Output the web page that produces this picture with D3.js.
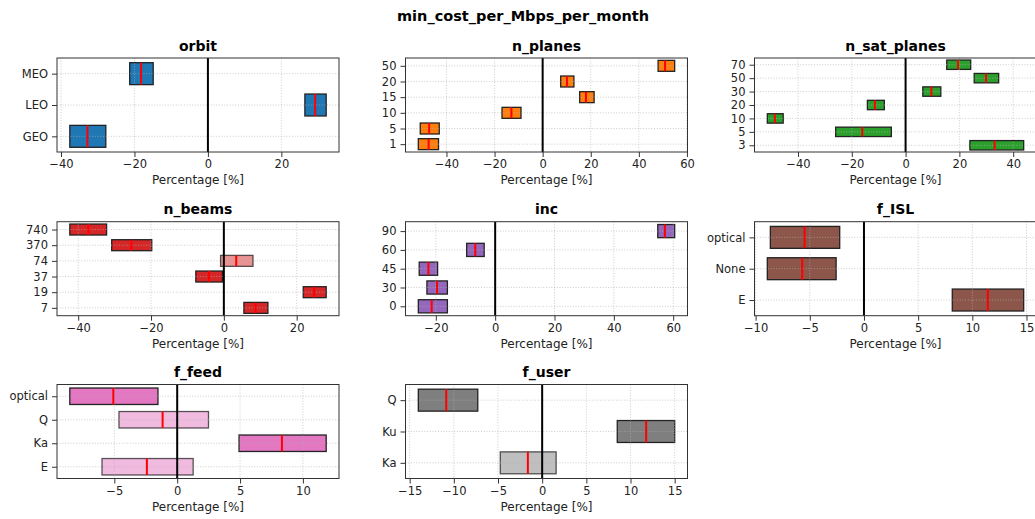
<!DOCTYPE html>
<html>
<head>
<meta charset="utf-8">
<script src="https://cdn.jsdelivr.net/npm/d3@7"></script>
<style>
  body { margin: 0; background: #fff; }
  svg { font-family: "DejaVu Sans", sans-serif; }
</style>
</head>
<body>
<svg id="chart" width="1035" height="519"></svg>
<script>
// values: box low / high edges and median, in percent
const orbitLabels = ["GEO", "LEO", "MEO"];
const orbitLow = [-37.6, 26.4, -21.3];
const orbitHigh = [-27.8, 32.2, -14.9];
const orbitMedian = [-32.8, 29.2, -18.2];

const planesLabels = ["1", "5", "10", "15", "20", "50"];
const planesLow = [-51.7, -50.9, -16.9, 15.4, 7.5, 48.0];
const planesHigh = [-43.3, -43.0, -9.0, 21.4, 13.0, 54.9];
const planesMedian = [-47.4, -47.2, -13.0, 18.0, 10.1, 50.9];

const satLabels = ["3", "5", "10", "20", "30", "50", "70"];
const satLow = [23.9, -26.0, -51.4, -14.2, 6.4, 25.5, 15.3];
const satHigh = [43.9, -5.3, -45.5, -7.9, 13.1, 34.6, 24.2];
const satMedian = [33.1, -16.1, -48.6, -11.4, 9.6, 29.9, 19.5];

const beamsLabels = ["7", "19", "37", "74", "370", "740"];
const beamsLow = [5.5, 21.8, -7.7, -0.9, -30.8, -42.3];
const beamsHigh = [12.1, 28.1, -0.4, 8.0, -19.8, -32.2];
const beamsMedian = [8.7, 24.8, -4.1, 3.4, -25.4, -37.2];

const incLabels = ["0", "30", "45", "60", "90"];
const incLow = [-25.9, -23.0, -25.6, -9.6, 54.8];
const incHigh = [-16.1, -16.1, -19.4, -3.7, 60.5];
const incMedian = [-21.4, -19.6, -22.5, -6.7, 57.2];

const islLabels = ["E", "None", "optical"];
const islLow = [8.15, -8.92, -8.64];
const islHigh = [14.74, -2.57, -2.24];
const islMedian = [11.43, -5.70, -5.48];

const feedLabels = ["E", "Ka", "Q", "optical"];
const feedLow = [-5.98, 4.92, -4.63, -8.54];
const feedHigh = [1.27, 11.85, 2.49, -1.53];
const feedMedian = [-2.41, 8.33, -1.16, -5.08];

const userLabels = ["Ka", "Ku", "Q"];
const userLow = [-4.74, 8.50, -14.02];
const userHigh = [1.58, 15.0, -7.29];
const userMedian = [-1.62, 11.77, -10.86];

const xTicks = {
  orbit: [-40, -20, 0, 20],
  n_planes: [-40, -20, 0, 20, 40, 60],
  n_sat_planes: [-40, -20, 0, 20, 40],
  n_beams: [-40, -20, 0, 20],
  inc: [-20, 0, 20, 40, 60],
  f_ISL: [-10, -5, 0, 5, 10, 15],
  f_feed: [-5, 0, 5, 10],
  f_user: [-15, -10, -5, 0, 5, 10, 15]
};

const panels = [
  { title: "orbit", labels: orbitLabels, low: orbitLow, high: orbitHigh, med: orbitMedian, color: "#1f77b4" },
  { title: "n_planes", labels: planesLabels, low: planesLow, high: planesHigh, med: planesMedian, color: "#ff7f0e" },
  { title: "n_sat_planes", labels: satLabels, low: satLow, high: satHigh, med: satMedian, color: "#2ca02c" },
  { title: "n_beams", labels: beamsLabels, low: beamsLow, high: beamsHigh, med: beamsMedian, color: "#d62728" },
  { title: "inc", labels: incLabels, low: incLow, high: incHigh, med: incMedian, color: "#9467bd" },
  { title: "f_ISL", labels: islLabels, low: islLow, high: islHigh, med: islMedian, color: "#8c564b" },
  { title: "f_feed", labels: feedLabels, low: feedLow, high: feedHigh, med: feedMedian, color: "#e377c2" },
  { title: "f_user", labels: userLabels, low: userLow, high: userHigh, med: userMedian, color: "#7f7f7f" }
];

const colLeft = [57, 405.5, 754.5];
const rowTop = [58, 221.7, 384.5];
const axW = 282, axH = 94;

const svg = d3.select("#chart");

svg.append("text")
  .attr("x", 523).attr("y", 21)
  .attr("text-anchor", "middle")
  .attr("font-size", 14.5).attr("font-weight", "bold")
  .text("min_cost_per_Mbps_per_month");

panels.forEach((p, k) => {
  const x0 = colLeft[k % 3], y0 = rowTop[Math.floor(k / 3)];
  const n = p.labels.length;
  const lo = d3.min(p.low), hi = d3.max(p.high);
  const pad = (hi - lo) * 0.05;

  const x = d3.scaleLinear().domain([lo - pad, hi + pad]).range([0, axW]);
  const y = d3.scaleLinear().domain([0.5, n + 0.5]).range([axH, 0]);
  const rows = p.labels.map((l, i) => ({ label: l, pos: i + 1, low: p.low[i], high: p.high[i], med: p.med[i] }));

  const g = svg.append("g").attr("transform", "translate(" + x0 + "," + y0 + ")");
  g.append("clipPath").attr("id", "clip" + k)
    .append("rect").attr("width", axW).attr("height", axH);
  const plot = g.append("g").attr("clip-path", "url(#clip" + k + ")");

  // boxes
  const bh = Math.abs(y(0.35) - y(0));
  plot.selectAll(".box")
    .data(rows)
    .join("rect")
    .attr("x", d => x(d.low))
    .attr("width", d => x(d.high) - x(d.low))
    .attr("y", d => y(d.pos) - bh)
    .attr("height", 2 * bh)
    .attr("fill", p.color)
    .attr("fill-opacity", d => (d.low < 0 && d.high > 0) ? 0.5 : 1)
    .attr("stroke", "#222")
    .attr("stroke-opacity", d => (d.low < 0 && d.high > 0) ? 0.75 : 1)
    .attr("stroke-width", 1.3);

  // grid on top, dotted
  plot.selectAll(".gx")
    .data(xTicks[p.title])
    .join("line")
    .attr("x1", d => x(d)).attr("x2", d => x(d))
    .attr("y1", 0).attr("y2", axH)
    .attr("stroke", "#b0b0b0").attr("stroke-width", 0.8)
    .attr("stroke-opacity", 0.8)
    .attr("stroke-dasharray", "1,1.7");
  plot.selectAll(".gy")
    .data(rows)
    .join("line")
    .attr("x1", 0).attr("x2", axW)
    .attr("y1", d => y(d.pos)).attr("y2", d => y(d.pos))
    .attr("stroke", "#b0b0b0").attr("stroke-width", 0.8)
    .attr("stroke-opacity", 0.8)
    .attr("stroke-dasharray", "1,1.7");

  // medians
  plot.selectAll(".med")
    .data(rows)
    .join("line")
    .attr("x1", d => x(d.med)).attr("x2", d => x(d.med))
    .attr("y1", d => y(d.pos) - bh).attr("y2", d => y(d.pos) + bh)
    .attr("stroke", "red").attr("stroke-width", 2);

  // zero line
  plot.append("line")
    .attr("x1", x(0)).attr("x2", x(0))
    .attr("y1", 0).attr("y2", axH)
    .attr("stroke", "#000").attr("stroke-width", 2);

  // frame
  g.append("rect")
    .attr("width", axW).attr("height", axH)
    .attr("fill", "none").attr("stroke", "#333").attr("stroke-width", 1);

  const xAxis = g.append("g")
    .attr("transform", "translate(0," + axH + ")")
    .call(d3.axisBottom(x).tickValues(xTicks[p.title]).tickSize(5).tickPadding(3));
  const yAxis = g.append("g")
    .call(d3.axisLeft(y).tickValues(rows.map(d => d.pos))
      .tickFormat(v => p.labels[v - 1]).tickSize(5).tickPadding(4));
  [xAxis, yAxis].forEach(a => {
    a.select(".domain").remove();
    a.selectAll(".tick line").attr("stroke", "#333");
    a.selectAll(".tick text")
      .attr("fill", "#222")
      .attr("font-size", 11.5)
      .attr("font-family", "DejaVu Sans, sans-serif");
  });

  g.append("text")
    .attr("x", axW / 2).attr("y", -7.3)
    .attr("text-anchor", "middle")
    .attr("font-size", 14).attr("font-weight", "bold")
    .text(p.title);

  g.append("text")
    .attr("x", axW / 2).attr("y", axH + 32)
    .attr("text-anchor", "middle")
    .attr("font-size", 12).attr("fill", "#222")
    .text("Percentage [%]");
});
</script>
</body>
</html>
